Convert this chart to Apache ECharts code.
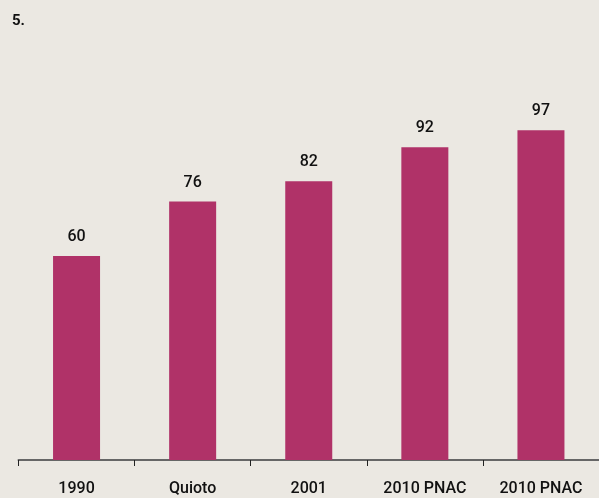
<!DOCTYPE html>
<html>
<head>
<meta charset="utf-8">
<script src="https://cdn.jsdelivr.net/npm/echarts@6/dist/echarts.min.js"></script>
<style>
  html, body { margin: 0; padding: 0; background: #ebe8e2; }
  #chart { width: 599px; height: 498px; }
</style>
</head>
<body>
<div id="chart"></div>
<script>
  var categories = ['1990', 'Quioto', '2001', '2010 PNAC', '2010 PNAC']
  var values = [60, 76, 82, 92, 97]

  var chart = echarts.init(document.getElementById('chart'))
  var option = {
    backgroundColor: '#ebe8e2',
    animation: false,
    title: {
      text: '5.',
      left: 7,
      top: 9,
      textStyle: { fontFamily: 'Roboto', fontWeight: 'bold', fontSize: 15, color: '#111' }
    },
    grid: { left: 18.5, right: -2.5, top: 120, bottom: 38 },
    xAxis: {
      type: 'category',
      data: categories,
      axisLine: { lineStyle: { color: '#666', width: 2 } },
      axisTick: { show: true, length: 6, lineStyle: { color: '#222', width: 1 } },
      axisLabel: {
        margin: 21,
        interval: 0,
        fontFamily: 'Roboto',
        fontWeight: 500,
        fontSize: 16,
        color: '#111'
      }
    },
    yAxis: {
      type: 'value',
      min: 0,
      max: 100,
      show: false,
      splitLine: { show: false }
    },
    series: [{
      type: 'bar',
      data: values,
      barWidth: 47,
      itemStyle: { color: '#b03268' },
      label: {
        show: true,
        position: 'top',
        distance: 11,
        fontFamily: 'Roboto',
        fontWeight: 500,
        fontSize: 16,
        color: '#111'
      }
    }]
  }
  chart.setOption(option)
</script>
</body>
</html>
